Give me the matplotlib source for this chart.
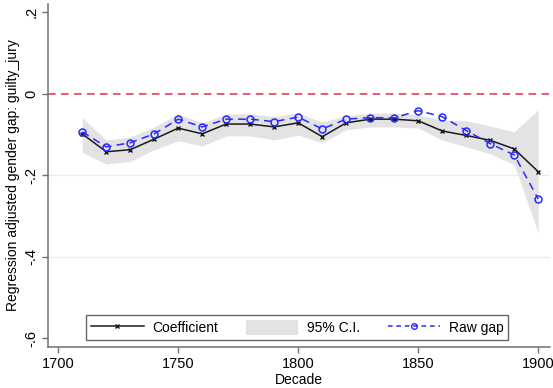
import numpy as np
import matplotlib.pyplot as plt
from matplotlib.patches import Patch
from matplotlib.lines import Line2D

plt.rcParams['font.family'] = ['Liberation Sans', 'DejaVu Sans']

# Data
decades = [1710, 1720, 1730, 1740, 1750, 1760, 1770, 1780, 1790, 1800,
           1810, 1820, 1830, 1840, 1850, 1860, 1870, 1880, 1890, 1900]
coef = [-0.098, -0.142, -0.137, -0.111, -0.084, -0.098, -0.074, -0.074, -0.081, -0.071,
        -0.105, -0.071, -0.062, -0.062, -0.066, -0.091, -0.102, -0.114, -0.135, -0.191]
raw_gap = [-0.093, -0.130, -0.120, -0.098, -0.062, -0.081, -0.062, -0.062, -0.068, -0.057,
           -0.086, -0.062, -0.058, -0.059, -0.041, -0.056, -0.090, -0.122, -0.150, -0.258]
ci_upper = [-0.058, -0.113, -0.106, -0.081, -0.049, -0.071, -0.049, -0.049, -0.056, -0.047,
            -0.069, -0.054, -0.047, -0.047, -0.052, -0.064, -0.066, -0.079, -0.093, -0.039]
ci_lower = [-0.144, -0.172, -0.166, -0.137, -0.115, -0.128, -0.103, -0.103, -0.113, -0.101,
            -0.120, -0.088, -0.081, -0.081, -0.084, -0.113, -0.130, -0.147, -0.174, -0.341]

yticks = [0.2, 0, -0.2, -0.4, -0.6]
ytick_labels = ['.2', '0', '-.2', '-.4', '-.6']
xticks = [1700, 1750, 1800, 1850, 1900]

# Plotting
fig = plt.figure(figsize=(5.53, 3.88), dpi=100)
ax = fig.add_axes([0.087, 0.106, 0.908, 0.884])

for g in [-0.2, -0.4]:
    ax.axhline(g, color='#e6eeef', lw=0.9, zorder=0)

ax.fill_between(decades, ci_lower, ci_upper, color='#e3e3e3', lw=0, zorder=1)
ax.axhline(0, color='#e0304a', lw=1.1, ls=(0, (5, 3.5)), zorder=2)
ax.plot(decades, coef, color='#1a1a1a', lw=1.1, marker='x', ms=3, mew=1.0, zorder=3)
ax.plot(decades, raw_gap, color='#2828ff', lw=1.1, ls=(0, (5, 3.5)), marker='o', ms=5,
        mfc='none', mec='#2828ff', mew=1.1, zorder=4)

ax.set_xlim(1695.8, 1905)
ax.set_ylim(-0.621, 0.221)
ax.set_yticks(yticks)
ax.set_yticklabels(ytick_labels, rotation=90, va='center')
ax.set_xticks(xticks)
ax.tick_params(direction='out', length=4, width=1, color='#707070', labelsize=10.5)
ax.tick_params(axis='y', pad=3)

for s in ['top', 'right']:
    ax.spines[s].set_visible(False)
for s in ['left', 'bottom']:
    ax.spines[s].set_color('#707070')
    ax.spines[s].set_linewidth(1.1)

ax.set_xlabel('Decade', fontsize=10, labelpad=1)
ax.set_ylabel('Regression adjusted gender gap: guilty_jury', fontsize=10, labelpad=3)

handles = [Line2D([], [], color='#1a1a1a', lw=1.1, marker='x', ms=3, mew=1.0),
           Patch(facecolor='#e3e3e3', edgecolor='none'),
           Line2D([], [], color='#2828ff', lw=1.1, ls=(0, (3, 2.5)), marker='o', ms=4,
                  mfc='none', mew=1.0)]
leg = ax.legend(handles, ['Coefficient', '95% C.I.', 'Raw gap'], ncol=3,
                loc='lower center', bbox_to_anchor=(0.496, 0.008), fontsize=10,
                frameon=True, fancybox=False, edgecolor='#404040', handlelength=3.8,
                handleheight=1.2, columnspacing=2.0, handletextpad=0.6, borderpad=0.35,
                borderaxespad=0.3)
leg.get_frame().set_linewidth(1.0)

fig.savefig('out.png', dpi=100)
